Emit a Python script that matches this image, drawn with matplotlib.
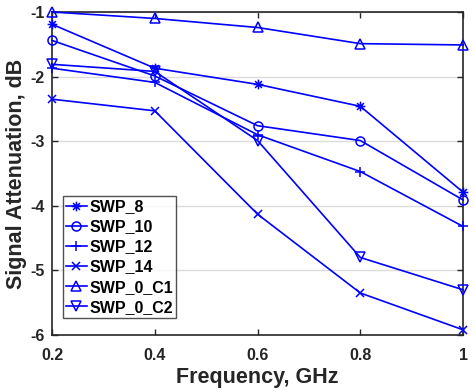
import matplotlib
matplotlib.use("Agg")
import matplotlib.pyplot as plt
from matplotlib.path import Path

freq = [0.2, 0.4, 0.6, 0.8, 1.0]
swp_8 = [-1.19, -1.87, -2.12, -2.46, -3.79]
swp_10 = [-1.44, -1.99, -2.76, -2.99, -3.91]
swp_12 = [-1.87, -2.09, -2.90, -3.47, -4.32]
swp_14 = [-2.35, -2.53, -4.13, -5.35, -5.92]
swp_0_c1 = [-1.00, -1.10, -1.24, -1.49, -1.51]
swp_0_c2 = [-1.81, -1.92, -2.99, -4.80, -5.30]

xticks = [0.2, 0.4, 0.6, 0.8, 1.0]
xticklabels = ["0.2", "0.4", "0.6", "0.8", "1"]
yticks = [-6, -5, -4, -3, -2, -1]
yticklabels = ["-6", "-5", "-4", "-3", "-2", "-1"]

d = 0.707
asterisk = Path(
    [(-1, 0), (1, 0), (0, -1), (0, 1), (-d, -d), (d, d), (-d, d), (d, -d)],
    [Path.MOVETO, Path.LINETO] * 4,
)

series = [
    ("SWP_8", swp_8, asterisk, 7),
    ("SWP_10", swp_10, "o", 6.5),
    ("SWP_12", swp_12, "+", 7.5),
    ("SWP_14", swp_14, "x", 6),
    ("SWP_0_C1", swp_0_c1, "^", 7),
    ("SWP_0_C2", swp_0_c2, "v", 7),
]

plt.rcParams['font.family'] = ['Liberation Sans', 'DejaVu Sans']
plt.rcParams['font.weight'] = 'bold'

fig = plt.figure(figsize=(4.75, 3.92), dpi=100)
ax = fig.add_axes([0.1095, 0.1454, 0.8655, 0.824])

for name, vals, m, ms in series:
    ax.plot(freq, vals, color=(0, 0, 1), lw=1.2, marker=m, markersize=ms,
            markerfacecolor='none', markeredgecolor=(0, 0, 1), markeredgewidth=1.1,
            label=name, clip_on=False, zorder=3)

ax.set_xlim(0.2, 1.0)
ax.set_ylim(-6, -1)
ax.set_xticks(xticks)
ax.set_xticklabels(xticklabels, fontsize=11.5, fontweight='bold')
ax.set_yticks(yticks)
ax.set_yticklabels(yticklabels, fontsize=11.5, fontweight='bold')
ax.yaxis.grid(True, color='#dcdcdc', lw=1.0)
ax.set_axisbelow(True)
ax.tick_params(direction='in', top=True, right=True, length=4, width=1.0, colors='#262626')
ax.tick_params(axis='x', pad=9)
ax.tick_params(axis='y', pad=5)
for s in ax.spines.values():
    s.set_linewidth(1.2)
    s.set_color('#262626')

ax.set_xlabel("Frequency, GHz", fontsize=15.5, fontweight='bold', color='#262626', labelpad=3)
ax.set_ylabel("Signal Attenuation, dB", fontsize=15.5, fontweight='bold', color='#262626', labelpad=3)

leg = ax.legend(loc='lower left', bbox_to_anchor=(0.026, 0.053), fontsize=11.5,
                frameon=True, fancybox=False, edgecolor='#262626', handlelength=1.3,
                handletextpad=0.15, borderpad=0.2, labelspacing=0.32, borderaxespad=0)
leg.get_frame().set_linewidth(1.0)
for t in leg.get_texts():
    t.set_fontweight('bold')

fig.savefig("out.png", dpi=100)
